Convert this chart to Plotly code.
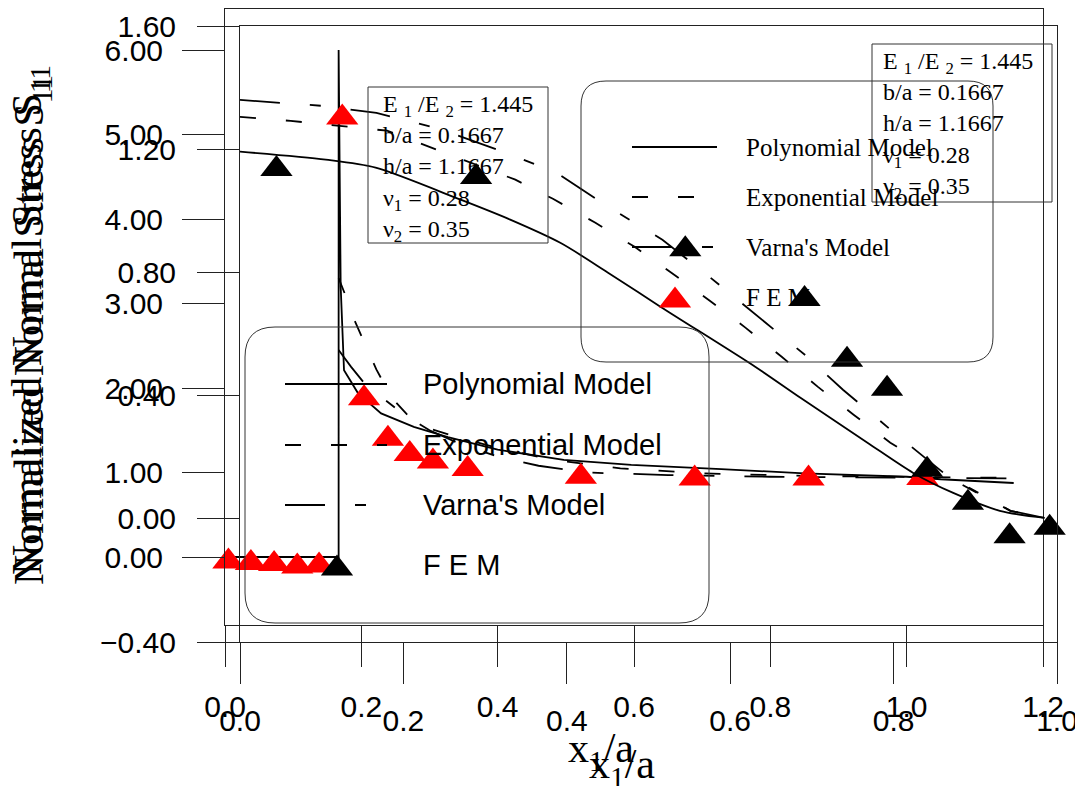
import plotly.graph_objects as go

# the page places the graph 8px from the window's top-left corner
OFF = 8
W, H = 1083 - OFF, 786 - OFF

# ---------------- data ----------------
# Set plotted against the 0..1.2 / 0..6 axes (red FEM set, stress concentration)
red_poly_x = [0.0, 0.1667, 0.1667, 0.1697, 0.1746, 0.195, 0.229, 0.277, 0.327, 0.40, 0.497, 0.596, 0.728, 0.85, 1.0, 1.05, 1.157]
red_poly_y = [0.0, 0.0, 6.0, 3.2, 2.21, 1.94, 1.70, 1.54, 1.42, 1.27, 1.15, 1.09, 1.04, 0.99, 0.95, 0.92, 0.876]
red_expo_x = [0.1667, 0.178, 0.190, 0.205, 0.222, 0.245, 0.27, 0.30, 0.34, 0.40, 0.48, 0.58, 0.70, 0.85, 1.00, 1.165]
red_expo_y = [3.30, 3.07, 2.80, 2.52, 2.22, 1.88, 1.66, 1.52, 1.42, 1.29, 1.15, 1.05, 0.99, 0.96, 0.945, 0.935]
red_varna_x = [0.1667, 0.185, 0.205, 0.229, 0.26, 0.30, 0.35, 0.40, 0.46, 0.53, 0.65, 0.80, 1.00, 1.16]
red_varna_y = [2.45, 2.25, 2.05, 1.90, 1.70, 1.50, 1.32, 1.19, 1.08, 1.00, 0.97, 0.95, 0.94, 0.93]
red_fem_x = [0.005, 0.038, 0.072, 0.106, 0.138, 0.172, 0.204, 0.239, 0.271, 0.305, 0.356, 0.522, 0.689, 0.856, 1.023]
red_fem_y = [-0.053, -0.071, -0.083, -0.112, -0.101, 5.20, 1.88, 1.40, 1.22, 1.13, 1.04, 0.95, 0.93, 0.93, 0.935]

# Set plotted against the 0..1.0 / -0.4..1.6 axes (black FEM set)
blk_poly_x = [0.0, 0.105, 0.166, 0.270, 0.330, 0.392, 0.450, 0.515, 0.631, 0.686, 0.768, 0.824, 0.873, 0.930, 0.985]
blk_poly_y = [1.192, 1.166, 1.140, 1.036, 0.972, 0.896, 0.800, 0.688, 0.493, 0.393, 0.247, 0.149, 0.084, 0.026, 0.003]
blk_expo_x = [0.0, 0.062, 0.180, 0.232, 0.337, 0.383, 0.435, 0.483, 0.528, 0.575, 0.619, 0.663, 0.707, 0.751, 0.796, 0.845, 0.918, 0.943, 0.985]
blk_expo_y = [1.305, 1.292, 1.260, 1.208, 1.101, 1.039, 0.961, 0.883, 0.799, 0.708, 0.620, 0.526, 0.429, 0.338, 0.247, 0.166, 0.062, 0.026, 0.003]
blk_varna_x = [0.0, 0.099, 0.167, 0.244, 0.322, 0.388, 0.447, 0.517, 0.567, 0.630, 0.693, 0.738, 0.801, 0.864, 0.918, 0.943, 0.985]
blk_varna_y = [1.360, 1.341, 1.318, 1.266, 1.192, 1.123, 1.019, 0.906, 0.802, 0.666, 0.529, 0.419, 0.279, 0.143, 0.062, 0.026, 0.003]
blk_fem_x = [0.0446, 0.289, 0.545, 0.691, 0.743, 0.792, 0.841, 0.891, 0.942, 0.991]
blk_fem_y = [1.136, 1.110, 0.875, 0.714, 0.516, 0.422, 0.159, 0.052, -0.057, -0.029]

# tick values
p_xticks = [0.0, 0.2, 0.4, 0.6, 0.8, 1.0, 1.2]
p_yticks = [0.0, 1.0, 2.0, 3.0, 4.0, 5.0, 6.0]
q_xticks = [0.0, 0.2, 0.4, 0.6, 0.8, 1.0]
q_yticks = [-0.4, 0.0, 0.4, 0.8, 1.2, 1.6]

legend_names = ["Polynomial Model", "Exponential Model", "Varna's Model", "F E M"]
params_text = ["E <sub>1</sub> /E <sub>2</sub> = 1.445", "b/a = 0.1667", "h/a = 1.1667",
               "\u03bd<sub>1</sub> = 0.28", "\u03bd<sub>2</sub> = 0.35"]

# ---------------- helpers (window pixels -> paper fractions) ----------------
def PX(px):
    return (px - OFF) / W

def PY(py):
    return 1 - (py - OFF) / H

SERIF = "Liberation Serif, Times New Roman, serif"
SANS = "Liberation Sans, Arial, sans-serif"
LW = 1.8
DASH_EXPO = "16px,30px"
DASH_VARNA = "40px,30px,11px,30px"
TRI = 28

fig = go.Figure()

# black set curves (Q axes)
fig.add_trace(go.Scatter(x=blk_poly_x, y=blk_poly_y, xaxis="x2", yaxis="y2", mode="lines",
                         line=dict(color="black", width=LW, shape="spline", smoothing=0.8), showlegend=False))
fig.add_trace(go.Scatter(x=blk_expo_x, y=blk_expo_y, xaxis="x2", yaxis="y2", mode="lines",
                         line=dict(color="black", width=LW, dash=DASH_EXPO), showlegend=False))
fig.add_trace(go.Scatter(x=blk_varna_x, y=blk_varna_y, xaxis="x2", yaxis="y2", mode="lines",
                         line=dict(color="black", width=LW, dash=DASH_VARNA), showlegend=False))
# red set curves (P axes)
fig.add_trace(go.Scatter(x=red_poly_x, y=red_poly_y, xaxis="x", yaxis="y", mode="lines",
                         line=dict(color="black", width=LW), showlegend=False))
fig.add_trace(go.Scatter(x=red_expo_x, y=red_expo_y, xaxis="x", yaxis="y", mode="lines",
                         line=dict(color="black", width=LW, dash=DASH_EXPO), showlegend=False))
fig.add_trace(go.Scatter(x=red_varna_x, y=red_varna_y, xaxis="x", yaxis="y", mode="lines",
                         line=dict(color="black", width=LW, dash=DASH_VARNA), showlegend=False))
# markers
fig.add_trace(go.Scatter(x=blk_fem_x, y=blk_fem_y, xaxis="x2", yaxis="y2", mode="markers",
                         marker=dict(symbol="triangle-up", size=TRI, color="black", line=dict(width=0)),
                         cliponaxis=False, showlegend=False))
fig.add_trace(go.Scatter(x=red_fem_x, y=red_fem_y, xaxis="x", yaxis="y", mode="markers",
                         marker=dict(symbol="triangle-up", size=TRI, color="red", line=dict(width=0)),
                         cliponaxis=False, showlegend=False))

axcommon = dict(ticks="outside", tickwidth=1, tickcolor="#222", showline=True, linecolor="#222",
                linewidth=1, mirror=True, showgrid=False, zeroline=False, automargin=False,
                tickfont=dict(family=SANS, size=30, color="black"))

# P frame: top edge of reference sits at 7px, keep it inside the graph
p_top = 8.5
p_yrange_hi = 6 + (50 - p_top) / 84.5

fig.update_layout(
    width=W, height=H,
    margin=dict(l=0, r=0, t=0, b=0, pad=0, autoexpand=False),
    paper_bgcolor="white", plot_bgcolor="rgba(0,0,0,0)",
    showlegend=False,
    xaxis=dict(domain=[PX(225), PX(1043)], range=[0, 1.2], anchor="y",
               tickvals=p_xticks, tickformat=".1f", ticklen=41, ticklabelstandoff=14, **axcommon),
    yaxis=dict(domain=[PY(625), PY(p_top)], range=[-0.8047, p_yrange_hi], anchor="x",
               tickvals=p_yticks, tickformat=".2f", ticklen=42, ticklabelstandoff=13, **axcommon),
    xaxis2=dict(domain=[PX(240), PX(1057)], range=[0, 1.0], anchor="y2",
                tickvals=q_xticks, tickformat=".1f", ticklen=41, ticklabelstandoff=11, **axcommon),
    yaxis2=dict(domain=[PY(642), PY(26)], range=[-0.4, 1.6], anchor="x2",
                tickvals=q_yticks, tickformat=".2f", ticklen=42, ticklabelstandoff=15, **axcommon),
)

shapes = []
annotations = []

def rrect(x0, y0, x1, y1, r):
    pts = [
        f"M{PX(x0 + r)},{PY(y0)}",
        f"L{PX(x1 - r)},{PY(y0)}",
        f"Q{PX(x1)},{PY(y0)} {PX(x1)},{PY(y0 + r)}",
        f"L{PX(x1)},{PY(y1 - r)}",
        f"Q{PX(x1)},{PY(y1)} {PX(x1 - r)},{PY(y1)}",
        f"L{PX(x0 + r)},{PY(y1)}",
        f"Q{PX(x0)},{PY(y1)} {PX(x0)},{PY(y1 - r)}",
        f"L{PX(x0)},{PY(y0 + r)}",
        f"Q{PX(x0)},{PY(y0)} {PX(x0 + r)},{PY(y0)}",
        "Z",
    ]
    return dict(type="path", xref="paper", yref="paper", path=" ".join(pts),
                line=dict(color="#333", width=1), fillcolor="rgba(0,0,0,0)", layer="above")

def tri(cx, cy, color):
    r = TRI / 2
    rt = r * 2 / 3 ** 0.5
    path = (f"M{PX(cx - rt)},{PY(cy + r / 2)} L{PX(cx + rt)},{PY(cy + r / 2)} "
            f"L{PX(cx)},{PY(cy - r)} Z")
    return dict(type="path", xref="paper", yref="paper", path=path,
                line=dict(width=0), fillcolor=color, layer="above")

def seg(x0, x1, y, dash):
    return dict(type="line", xref="paper", yref="paper", x0=PX(x0), x1=PX(x1), y0=PY(y), y1=PY(y),
                line=dict(color="black", width=LW, dash=dash), layer="above")

# legend boxes
shapes.append(rrect(581, 81, 993, 362, 25))
shapes.append(rrect(245, 327, 709, 623, 30))

# upper legend (serif)
up_rows = [147, 197, 247, 297]
shapes.append(seg(632, 717, up_rows[0], "solid"))
shapes.append(seg(632, 717, up_rows[1], DASH_EXPO))
shapes.append(seg(632, 717, up_rows[2], DASH_VARNA))
shapes.append(tri(675, up_rows[3] + 3.5, "red"))
for name, ry in zip(legend_names, up_rows):
    annotations.append(dict(text=name, xref="paper", yref="paper", x=PX(744), y=PY(ry),
                            xanchor="left", yanchor="middle", showarrow=False,
                            font=dict(family=SERIF, size=25, color="black")))

# lower legend (sans)
lo_rows = [384, 445, 505, 565]
shapes.append(seg(285, 387, lo_rows[0], "solid"))
shapes.append(seg(285, 387, lo_rows[1], DASH_EXPO))
shapes.append(seg(285, 387, lo_rows[2], DASH_VARNA))
shapes.append(tri(337, lo_rows[3] + 3.5, "black"))
for name, ry in zip(legend_names, lo_rows):
    annotations.append(dict(text=name, xref="paper", yref="paper", x=PX(421), y=PY(ry),
                            xanchor="left", yanchor="middle", showarrow=False,
                            font=dict(family=SANS, size=29, color="black")))

# parameter boxes
for (bx0, by0, bx1, by1, tx, ty) in [(368, 87, 548, 243, 381, 89), (872, 44, 1052, 202, 881, 46)]:
    shapes.append(dict(type="rect", xref="paper", yref="paper", x0=PX(bx0), x1=PX(bx1), y0=PY(by0), y1=PY(by1),
                       line=dict(color="#333", width=1), fillcolor="rgba(0,0,0,0)", layer="above"))
    annotations.append(dict(text="<br>".join(params_text), xref="paper", yref="paper", x=PX(tx), y=PY(ty),
                            xanchor="left", yanchor="top", align="left", showarrow=False,
                            font=dict(family=SERIF, size=24, color="black")))

# axis titles (two overlapping copies each)
ytitle = "Normalized Normal Stress S<sub>11</sub>"
xtitle = "x<sub>1</sub>/a"
for (cx, cy) in [(32, 330), (30, 320)]:
    annotations.append(dict(text=ytitle, xref="paper", yref="paper", x=PX(cx), y=PY(cy),
                            xanchor="center", yanchor="middle", textangle=-90, showarrow=False,
                            font=dict(family=SERIF, size=42, color="black")))
for (cx, cy) in [(601, 751), (622, 767)]:
    annotations.append(dict(text=xtitle, xref="paper", yref="paper", x=PX(cx), y=PY(cy),
                            xanchor="center", yanchor="middle", showarrow=False,
                            font=dict(family=SERIF, size=42, color="black")))

fig.update_layout(shapes=shapes, annotations=annotations)
fig.write_html("out.html")
